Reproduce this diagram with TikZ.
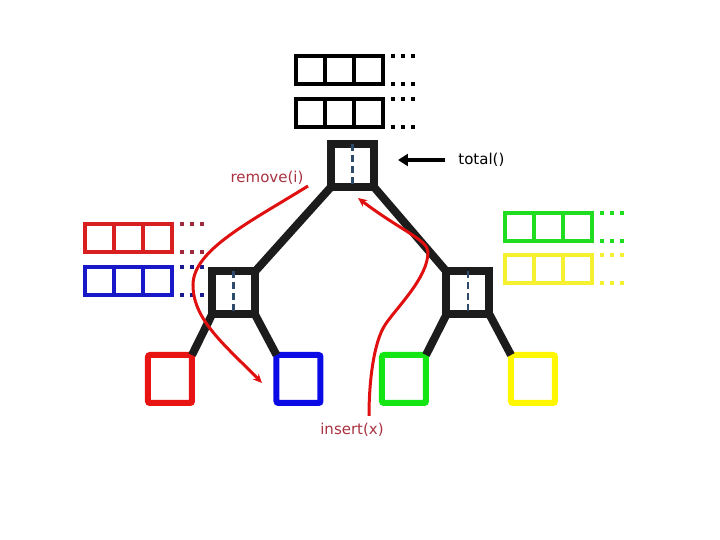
\documentclass[tikz,border=0pt]{standalone}
\usepackage{fontspec}
\setmainfont{DejaVu Sans}
\usetikzlibrary{arrows.meta}

\definecolor{treeblack}{HTML}{1C1C1C}
\definecolor{midblue}{HTML}{2F4B6B}
\definecolor{leafred}{HTML}{E81414}
\definecolor{leafblue}{HTML}{0A0AE6}
\definecolor{leafgreen}{HTML}{14E614}
\definecolor{leafyellow}{HTML}{FFF700}
\definecolor{cellred}{HTML}{D82020}
\definecolor{cellblue}{HTML}{1818C8}
\definecolor{cellgreen}{HTML}{20DD20}
\definecolor{cellyellow}{HTML}{F5F030}
\definecolor{dotred}{HTML}{A0283C}
\definecolor{dotblue}{HTML}{1A1A8C}
\definecolor{opred}{HTML}{E01010}
\definecolor{optext}{HTML}{A83240}

\begin{document}
\begin{tikzpicture}[x=0.5pt, y=-0.5pt,
    font=\fontsize{7.5}{9}\selectfont,
    inner/.style={draw=treeblack, rectangle, line width=4pt, minimum width=21.5pt, minimum height=21.5pt, inner sep=0pt, outer sep=0pt},
    leaf/.style={draw, rectangle, line width=3pt, minimum width=22pt, minimum height=24pt, inner sep=0pt, outer sep=0pt, rounded corners=1pt},
    cell/.style={draw, rectangle, line width=2pt, minimum width=14.5pt, minimum height=14pt, inner sep=0pt, outer sep=0pt},
    edge/.style={draw=treeblack, line width=4pt},
    ellip/.style={line width=2pt, dash pattern=on 2pt off 3pt},
    median/.style={draw=midblue, line width=1.2pt, dash pattern=on 3.5pt off 2pt},
    op/.style={draw=opred, line width=1.5pt, -{Stealth[length=4.5pt, width=4pt]}}]
    \useasboundingbox (0,0) rectangle (720,540);

    % arrays of values kept in the nodes
    \foreach \row/\col/\dotcol/\cx/\cy in {topa/black/black/310.5/70.5, topb/black/black/310.5/113.5,
        reda/cellred/dotred/99.7/238.5, blueb/cellblue/dotblue/99.7/281.5,
        greena/cellgreen/cellgreen/519.7/227, yellowb/cellyellow/cellyellow/519.7/269.5} {
        \foreach \i in {1,2,3}
            \node[cell, draw=\col] (\row\i) at (\cx+29*\i-29, \cy) {};
        \draw[ellip, \dotcol] ([xshift=4pt]\row3.north east) -- ++(24,0);
        \draw[ellip, \dotcol] ([xshift=4pt]\row3.south east) -- ++(24,0);
    }

    % tree
    \node (root) [inner] at (352.5,165.5) {};
    \node (left) [inner] at (233.5,293) {};
    \node (right) [inner] at (468,293) {};
    \node (lred) [leaf, draw=leafred] at (170,379) {};
    \node (lblue) [leaf, draw=leafblue] at (298.5,379) {};
    \node (lgreen) [leaf, draw=leafgreen] at (404,379) {};
    \node (lyellow) [leaf, draw=leafyellow] at (533,379) {};

    \draw[edge] (root.south west) -- (left.north east);
    \draw[edge] (root.south east) -- (right.north west);
    \draw[edge] (left.south west) -- (lred.north east);
    \draw[edge] (left.south east) -- (lblue.north west);
    \draw[edge] (right.south west) -- (lgreen.north east);
    \draw[edge] (right.south east) -- (lyellow.north west);

    \draw[median] (root.north) -- (root.south);
    \draw[median] (left.north) -- (left.south);
    \draw[median] (right.north) -- (right.south);

    % operations
    \node (total) [anchor=west, inner sep=0pt] at (458,160) {total()};
    \node (remove) [text=optext, inner sep=0pt] at (267,178) {remove(i)};
    \node (insert) [text=optext, inner sep=0pt] at (352,430) {insert(x)};

    \coordinate (rmfrom) at (308,186);
    \coordinate (rmto) at (262,383);
    \coordinate (insfrom) at (369,416);
    \coordinate (insto) at (358,198);

    \draw[line width=2pt, -{Triangle[length=5pt, width=6pt]}] ([xshift=-6.5pt]total.west) -- ++(-47,0);
    \draw[op] (rmfrom) .. controls (250,222) and (193,250) .. (193,285)
        .. controls (193,320) and (225,345) .. (rmto);
    \draw[op] (insfrom) .. controls (369,380) and (374,342) .. (385,325)
        .. controls (396,308) and (428,278) .. (428,252)
        .. controls (428,240) and (400,230) .. (insto);
\end{tikzpicture}
\end{document}
